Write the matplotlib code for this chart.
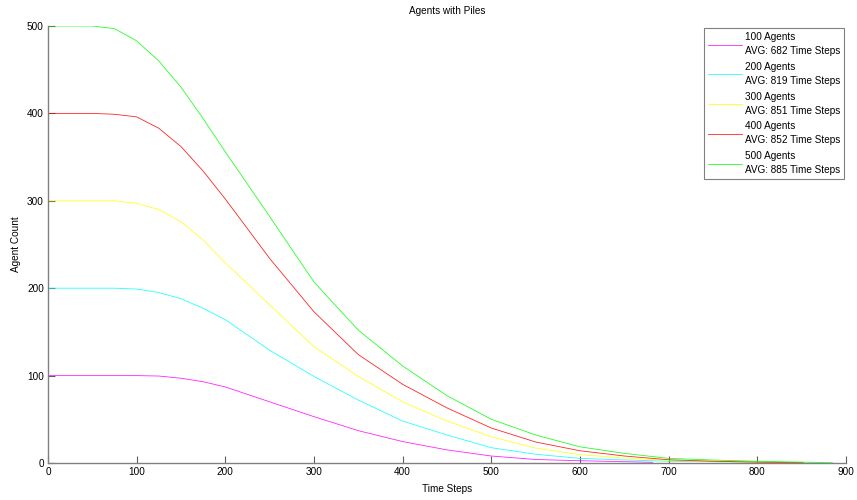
import matplotlib
matplotlib.use("Agg")
import matplotlib.pyplot as plt

plt.rcParams['font.family'] = ['Liberation Sans', 'DejaVu Sans']

steps = [0, 25, 50, 75, 100, 125, 150, 175, 200, 250, 300, 350, 400, 450, 500,
         550, 600, 650, 700, 750, 800, 850]

agents_100 = [100, 100, 100, 100, 100, 99.5, 97, 93, 87, 70, 53, 37, 24.5, 15, 8,
              4, 2.6, 1.3]
steps_100 = steps[:17] + [682]
agents_100 = agents_100[:17] + [0.8]

agents_200 = [200, 200, 200, 200, 199, 195, 188, 177, 164, 129, 99, 72, 48, 32, 17.5,
              10, 5.3, 3.5, 2, 1.5, 1]
steps_200 = steps[:21] + [819]
agents_200 = agents_200 + [0.5]

agents_300 = [300, 300, 300, 300, 297, 290, 276, 255, 229, 181, 133, 99, 70, 48, 30,
              17, 9.5, 5.7, 3, 2, 1, 0.5]
steps_300 = steps + [851]
agents_300 = agents_300 + [0.3]

agents_400 = [400, 400, 400, 399, 396, 383, 362, 334, 302, 234, 173, 124, 90, 63, 40,
              24, 14, 8, 3.7, 2, 1, 0.4]
steps_400 = steps + [852]
agents_400 = agents_400 + [0.3]

agents_500 = [500, 500, 500, 497, 483, 460, 430, 394, 356, 282, 207, 152, 111, 77, 50,
              32, 18.5, 11, 5.3, 3.4, 2, 1]
steps_500 = steps + [885]
agents_500 = agents_500 + [0.2]

labels = ["100 Agents\nAVG: 682 Time Steps",
          "200 Agents\nAVG: 819 Time Steps",
          "300 Agents\nAVG: 851 Time Steps",
          "400 Agents\nAVG: 852 Time Steps",
          "500 Agents\nAVG: 885 Time Steps"]
colors = ["#ff00ff", "#00ffff", "#ffff00", "#ff0000", "#00ff00"]

xticks = [0, 100, 200, 300, 400, 500, 600, 700, 800, 900]
yticks = [0, 100, 200, 300, 400, 500]

fig = plt.figure(figsize=(8.57, 5.0), dpi=100)
ax = fig.add_axes([48/857, 37/500, (846-48)/857, (463-26)/500])

series = [(steps_100, agents_100), (steps_200, agents_200), (steps_300, agents_300),
          (steps_400, agents_400), (steps_500, agents_500)]
for (xs, ys), c, lab in zip(series, colors, labels):
    ax.plot(xs, ys, color=c, lw=0.6, alpha=0.85, label=lab)

ax.set_xlim(0, 900)
ax.set_ylim(0, 500)
ax.set_xticks(xticks)
ax.set_yticks(yticks)
for s in ['top', 'right']:
    ax.spines[s].set_visible(False)
for s in ['left', 'bottom']:
    ax.spines[s].set_color('#808080')
    ax.spines[s].set_linewidth(1.0)
ax.tick_params(direction='in', length=5, width=0.8, color='#606060',
               labelsize=7.2, labelcolor='black', pad=3)

ax.set_title("Agents with Piles", fontsize=7.2, pad=9)
ax.set_xlabel("Time Steps", fontsize=7.2, labelpad=5)
ax.set_ylabel("Agent Count", fontsize=7.2, labelpad=4)

leg = ax.legend(loc='upper right', fontsize=7.2, frameon=True, fancybox=False,
                edgecolor='#808080', framealpha=1, handlelength=3.4,
                labelspacing=0.58, borderpad=0.4, handletextpad=0.3,
                borderaxespad=0.2)
leg.get_frame().set_linewidth(0.8)
for t in leg.get_texts():
    t.set_linespacing(1.5)

fig.savefig("out.png", dpi=100)
